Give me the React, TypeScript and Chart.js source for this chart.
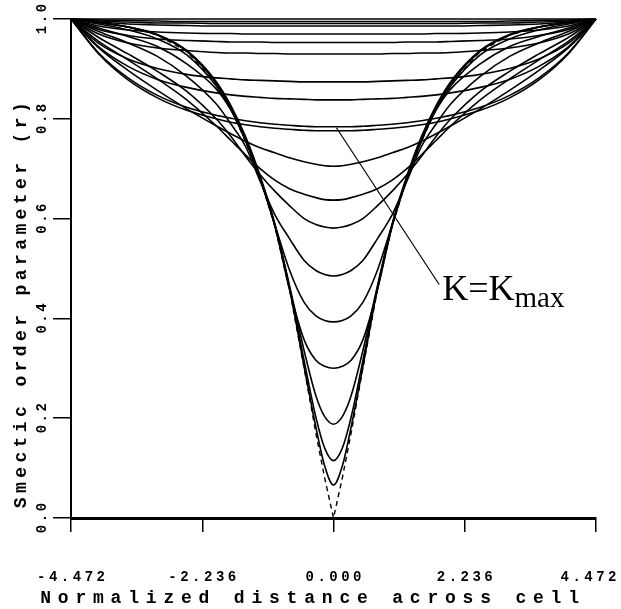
import React, { useEffect, useRef } from "react";
import { Chart, registerables } from "chart.js";

Chart.register(...registerables);

const W = 621;
const H = 609;

// half-profile sample positions (|x|), wall to centre
const xHalf = [4.472, 4.0, 3.5, 3.0, 2.5, 2.0, 1.75, 1.5, 1.25, 1.0, 0.75, 0.5, 0.3, 0.15, 0];

// upper branch (K below Kmax)
const u1000 = [1, 1, 1, 1, 1, 1, 1, 1, 1, 1, 1, 1, 1, 1, 1];
const u995 = [1, 0.998, 0.997, 0.996, 0.995, 0.995, 0.995, 0.995, 0.995, 0.995, 0.995, 0.995, 0.995, 0.995, 0.995];
const u991 = [1, 0.996, 0.994, 0.992, 0.992, 0.991, 0.991, 0.991, 0.991, 0.991, 0.991, 0.991, 0.991, 0.991, 0.991];
const u986 = [1, 0.994, 0.99, 0.988, 0.987, 0.986, 0.986, 0.986, 0.986, 0.986, 0.986, 0.986, 0.986, 0.986, 0.986];
const u970 = [1, 0.986, 0.978, 0.974, 0.972, 0.971, 0.971, 0.97, 0.97, 0.97, 0.97, 0.97, 0.97, 0.97, 0.97];
const u953 = [1, 0.979, 0.967, 0.96, 0.957, 0.955, 0.954, 0.954, 0.954, 0.953, 0.953, 0.953, 0.953, 0.953, 0.953];
const u930 = [1, 0.97, 0.952, 0.942, 0.937, 0.933, 0.932, 0.932, 0.931, 0.931, 0.93, 0.93, 0.93, 0.93, 0.93];
const u874 = [1, 0.951, 0.92, 0.901, 0.889, 0.882, 0.88, 0.878, 0.877, 0.876, 0.875, 0.874, 0.874, 0.874, 0.874];
const u838 = [1, 0.944, 0.905, 0.879, 0.863, 0.852, 0.848, 0.845, 0.843, 0.841, 0.84, 0.839, 0.838, 0.838, 0.838];
const u784 = [1, 0.932, 0.882, 0.847, 0.823, 0.807, 0.801, 0.796, 0.792, 0.789, 0.787, 0.785, 0.784, 0.784, 0.784];

// lower branch (K = Kmax down to the dashed limit)
const l776 = [1, 0.93, 0.878, 0.842, 0.817, 0.8, 0.793, 0.788, 0.784, 0.781, 0.779, 0.777, 0.776, 0.776, 0.776];
const l705 = [1, 0.942, 0.897, 0.857, 0.82, 0.786, 0.77, 0.755, 0.742, 0.732, 0.722, 0.714, 0.709, 0.706, 0.705];
const l637 = [1, 0.955, 0.918, 0.88, 0.838, 0.786, 0.757, 0.728, 0.7, 0.677, 0.66, 0.649, 0.642, 0.638, 0.637];
const l581 = [1, 0.963, 0.93, 0.895, 0.855, 0.8, 0.765, 0.725, 0.688, 0.655, 0.626, 0.6, 0.588, 0.583, 0.581];
const l485 = [1, 0.975, 0.952, 0.925, 0.885, 0.83, 0.79, 0.745, 0.675, 0.608, 0.56, 0.516, 0.496, 0.488, 0.485];
const l393 = [1, 0.982, 0.965, 0.945, 0.91, 0.86, 0.818, 0.758, 0.68, 0.588, 0.497, 0.432, 0.405, 0.396, 0.393];
const l301 = [1, 0.99, 0.978, 0.96, 0.928, 0.866, 0.82, 0.757, 0.679, 0.586, 0.458, 0.357, 0.316, 0.304, 0.3];
const l188 = [1, 0.993, 0.984, 0.969, 0.937, 0.875, 0.827, 0.765, 0.686, 0.59, 0.466, 0.335, 0.245, 0.203, 0.188];
const l115 = [1, 0.993, 0.984, 0.968, 0.936, 0.872, 0.822, 0.759, 0.682, 0.587, 0.462, 0.315, 0.202, 0.14, 0.115];
const l066 = [1, 0.993, 0.984, 0.968, 0.935, 0.871, 0.821, 0.756, 0.681, 0.586, 0.46, 0.303, 0.182, 0.104, 0.066];
const dashedLimit = [1, 0.993, 0.984, 0.968, 0.935, 0.87, 0.82, 0.755, 0.68, 0.585, 0.458, 0.3, 0.17, 0.08, 0];

const solidCurves = [
  u1000, u995, u991, u986, u970, u953, u930, u874, u838, u784,
  l776, l705, l637, l581, l485, l393, l301, l188, l115, l066,
];

// axes
const xTicks = [-4.472, -2.236, 0, 2.236, 4.472];
const xTickLabels = ["-4.472", "-2.236", "0.000", "2.236", "4.472"];
const yTicks = [0, 0.2, 0.4, 0.6, 0.8, 1.0];
const yTickLabels = ["0.0", "0.2", "0.4", "0.6", "0.8", "1.0"];
const xTitle = "Normalized distance across cell";
const yTitle = "Smectic order parameter (r)";

// annotation: pointer from the K = Kmax curve to its label
const pointerFrom = { x: 0.05, y: 0.782 };
const pointerTo = { x: 1.8, y: 0.468 };
const labelMain = "K=K";
const labelSub = "max";

// layout (pixels)
const PLOT_LEFT = 71;
const PLOT_RIGHT = 596;
const PLOT_TOP = 19;
const PLOT_BOTTOM = 518;

function mirror(vals: number[]) {
  const pts: { x: number; y: number }[] = [];
  for (let i = 0; i < xHalf.length; i++) pts.push({ x: -xHalf[i], y: vals[i] });
  for (let i = xHalf.length - 2; i >= 0; i--) pts.push({ x: xHalf[i], y: vals[i] });
  return pts;
}

const textPlugin = {
  id: "paperText",
  afterDraw(chart: any) {
    const ctx = chart.ctx as CanvasRenderingContext2D & { letterSpacing?: string };
    const xs = chart.scales.x;
    const ys = chart.scales.y;
    ctx.save();
    ctx.fillStyle = "#000";
    ctx.strokeStyle = "#000";

    // x tick labels
    ctx.font = 'bold 14px "Liberation Mono"';
    ctx.letterSpacing = "3.5px";
    ctx.textAlign = "center";
    ctx.textBaseline = "middle";
    xTicks.forEach((v, i) => {
      const half = ctx.measureText(xTickLabels[i]).width / 2;
      let cx = xs.getPixelForValue(v) + 1.75;
      if (cx + half > W - 1) cx = W - 1 - half;
      ctx.fillText(xTickLabels[i], cx, 577);
    });

    // y tick labels (rotated)
    ctx.letterSpacing = "2.5px";
    yTicks.forEach((v, i) => {
      ctx.save();
      ctx.translate(42, ys.getPixelForValue(v));
      ctx.rotate(-Math.PI / 2);
      ctx.fillText(yTickLabels[i], 1.2, 0);
      ctx.restore();
    });

    // x title
    ctx.font = 'bold 18px "Liberation Mono"';
    ctx.letterSpacing = "6.8px";
    ctx.fillText(xTitle, 313, 598);

    // y title
    ctx.letterSpacing = "4.4px";
    ctx.save();
    ctx.translate(21, 305);
    ctx.rotate(-Math.PI / 2);
    ctx.fillText(yTitle, 2, 0);
    ctx.restore();

    // pointer line
    ctx.letterSpacing = "0px";
    ctx.lineWidth = 1.2;
    ctx.beginPath();
    ctx.moveTo(xs.getPixelForValue(pointerFrom.x), ys.getPixelForValue(pointerFrom.y));
    const ex = xs.getPixelForValue(pointerTo.x);
    const ey = ys.getPixelForValue(pointerTo.y);
    ctx.lineTo(ex, ey);
    ctx.stroke();

    // label
    ctx.textAlign = "left";
    ctx.textBaseline = "alphabetic";
    ctx.font = '36px "Liberation Serif"';
    const lx = ex + 3;
    const ly = ey + 16;
    ctx.fillText(labelMain, lx, ly);
    const w = ctx.measureText(labelMain).width;
    ctx.font = '29px "Liberation Serif"';
    ctx.fillText(labelSub, lx + w, ly + 7);
    ctx.restore();
  },
};

export default function App() {
  const ref = useRef<HTMLCanvasElement>(null);

  useEffect(() => {
    const canvas = ref.current;
    if (!canvas) return;

    const datasets: any[] = solidCurves.map((vals) => ({
      data: mirror(vals),
      borderColor: "#000",
      borderWidth: 1.6,
      pointRadius: 0,
      fill: false,
      cubicInterpolationMode: "monotone",
      clip: false,
    }));
    datasets.push({
      data: mirror(dashedLimit),
      borderColor: "#000",
      borderWidth: 1.4,
      borderDash: [5, 4],
      pointRadius: 0,
      fill: false,
      tension: 0,
      clip: false,
    });

    const chart = new Chart(canvas, {
      type: "line",
      data: { datasets },
      options: {
        responsive: false,
        maintainAspectRatio: false,
        animation: false,
        devicePixelRatio: 1,
        layout: { padding: { left: 0, top: PLOT_TOP, right: W - PLOT_RIGHT, bottom: 0 } },
        plugins: { legend: { display: false }, tooltip: { enabled: false } },
        scales: {
          x: {
            type: "linear",
            min: -4.472,
            max: 4.472,
            afterBuildTicks: (axis: any) => {
              axis.ticks = xTicks.map((v) => ({ value: v }));
            },
            afterFit: (s: any) => {
              s.height = H - PLOT_BOTTOM;
            },
            ticks: { display: false },
            grid: {
              display: true,
              drawOnChartArea: false,
              drawTicks: true,
              tickLength: 14,
              color: "#000",
              lineWidth: 1.5,
            },
            border: { display: true, color: "#000", width: 3 },
          },
          y: {
            type: "linear",
            min: 0,
            max: 1,
            afterBuildTicks: (axis: any) => {
              axis.ticks = yTicks.map((v) => ({ value: v }));
            },
            afterFit: (s: any) => {
              s.width = PLOT_LEFT;
            },
            ticks: { display: false },
            grid: {
              display: true,
              drawOnChartArea: false,
              drawTicks: true,
              tickLength: 18,
              color: "#000",
              lineWidth: 1.5,
            },
            border: { display: true, color: "#000", width: 2 },
          },
        },
      },
      plugins: [textPlugin],
    });

    return () => chart.destroy();
  }, []);

  return (
    <div style={{ position: "absolute", left: 0, top: 0, width: W, height: H, background: "#fff" }}>
      <canvas ref={ref} width={W} height={H} style={{ display: "block", width: W, height: H }} />
    </div>
  );
}
